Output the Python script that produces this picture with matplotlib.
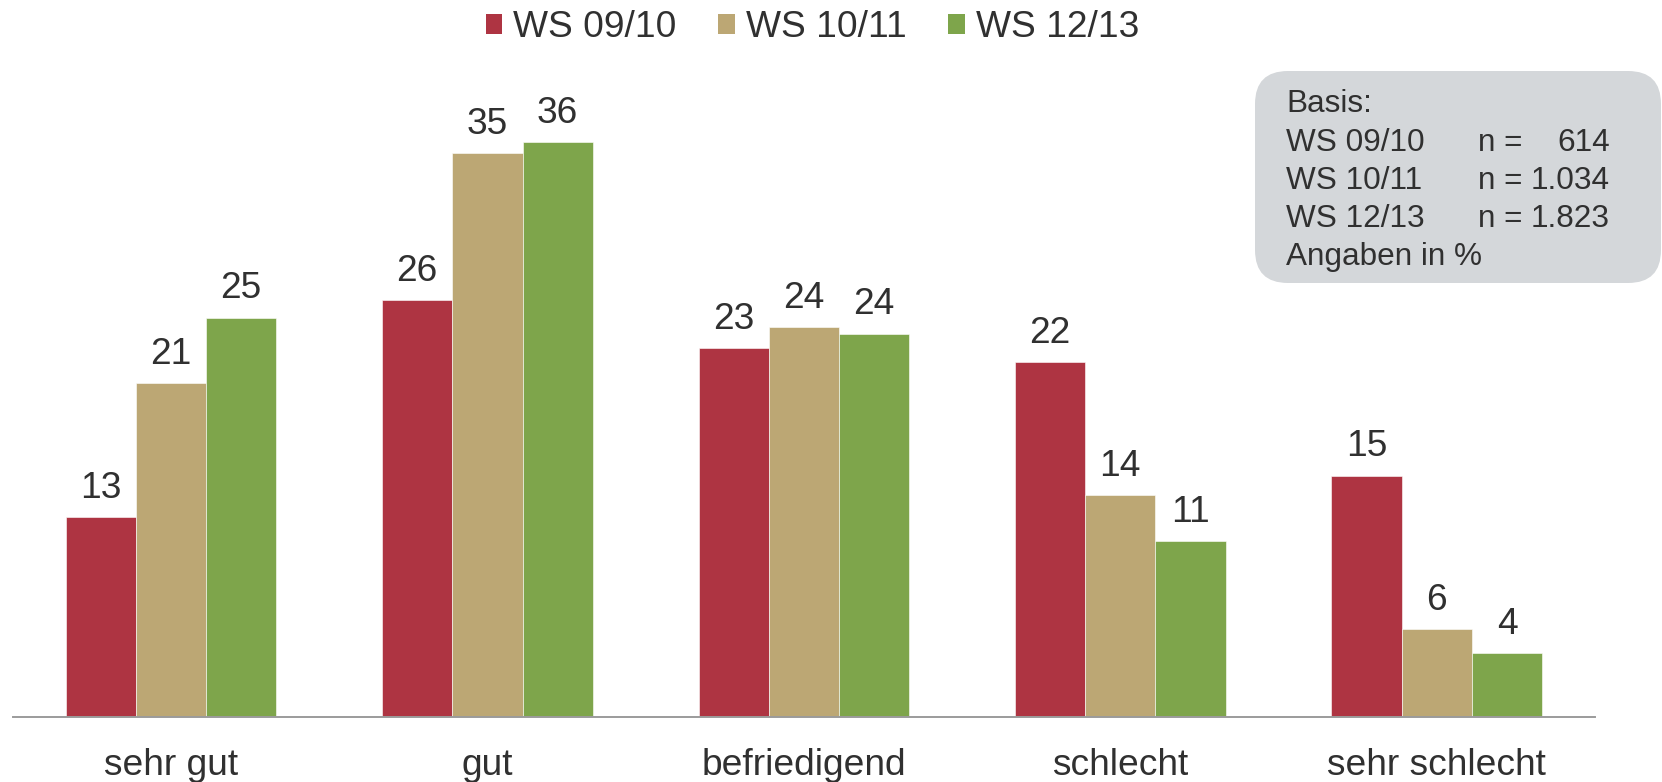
import matplotlib
matplotlib.use("Agg")
import numpy as np
import matplotlib.pyplot as plt
from matplotlib.patches import FancyBboxPatch, Patch

plt.rcParams["font.family"] = ["Liberation Sans", "DejaVu Sans"]

categories = ["sehr gut", "gut", "befriedigend", "schlecht", "sehr schlecht"]
series = ["WS 09/10", "WS 10/11", "WS 12/13"]
ws_0910 = [12.5, 26.1, 23.1, 22.2, 15.1]
ws_1011 = [20.9, 35.3, 24.4, 13.9, 5.5]
ws_1213 = [25.0, 36.0, 24.0, 11.0, 4.0]
n_values = ["614", "1.034", "1.823"]

COLORS = ["#ae3442", "#bca774", "#7ea54b"]
TEXT = "#303030"
FS = 26.7
BOX_FS = 22.7

fig = plt.figure(figsize=(16.62, 7.82), dpi=100)
ax = fig.add_axes([0.00764, 0.0831, 0.9521, 0.8169])

x = np.arange(len(categories))
w = 0.222
for i, (vals, col, name) in enumerate(zip([ws_0910, ws_1011, ws_1213], COLORS, series)):
    bars = ax.bar(x + (i - 1) * w, vals, w, color=col, edgecolor="white",
                  linewidth=0.4, label=name)
    for b, v in zip(bars, vals):
        ax.annotate(f"{int(v + 0.5)}", (b.get_x() + b.get_width() / 2, v),
                    xytext=(0, 14), textcoords="offset points",
                    ha="center", va="baseline", fontsize=FS, color=TEXT)

ax.set_xlim(-0.5, 4.5)
ax.set_ylim(0, 40)
ax.set_xticks(x, categories, fontsize=FS, color=TEXT)
ax.tick_params(axis="x", length=0, pad=22)
ax.set_yticks([])
for s in ["left", "right", "top"]:
    ax.spines[s].set_visible(False)
ax.spines["bottom"].set_color("#9b9b9b")
ax.spines["bottom"].set_linewidth(1.4)

# legend on top
handles = [Patch(facecolor=c, label=s) for c, s in zip(COLORS, series)]
fig.legend(handles=handles, loc="center", bbox_to_anchor=(0.4889, 0.9645),
           ncol=3, frameon=False, fontsize=FS, labelcolor=TEXT,
           handlelength=0.45, handleheight=0.45, handletextpad=0.3,
           columnspacing=1.12, borderaxespad=0)

# info box (upper right)
box = FancyBboxPatch((12.55, 4.99), 4.06, 2.12,
                     boxstyle="round,pad=0,rounding_size=0.33",
                     transform=fig.dpi_scale_trans, facecolor="#d4d7da",
                     edgecolor="none", zorder=0)
fig.patches.append(box)

H = 782.0
fig.text(0.7740, 1 - 112 / H, "Basis:", fontsize=BOX_FS, color=TEXT, va="baseline")
for k, (s, n) in enumerate(zip(series, n_values)):
    yb = 1 - (151 + k * 38) / H
    fig.text(0.7740, yb, s, fontsize=BOX_FS, color=TEXT, va="baseline")
    fig.text(0.8893, yb, "n =", fontsize=BOX_FS, color=TEXT, va="baseline")
    fig.text(0.9687, yb, n, fontsize=BOX_FS, color=TEXT, va="baseline", ha="right")
fig.text(0.7740, 1 - 265 / H, "Angaben in %", fontsize=BOX_FS, color=TEXT, va="baseline")

fig.savefig("out.png", dpi=100)
